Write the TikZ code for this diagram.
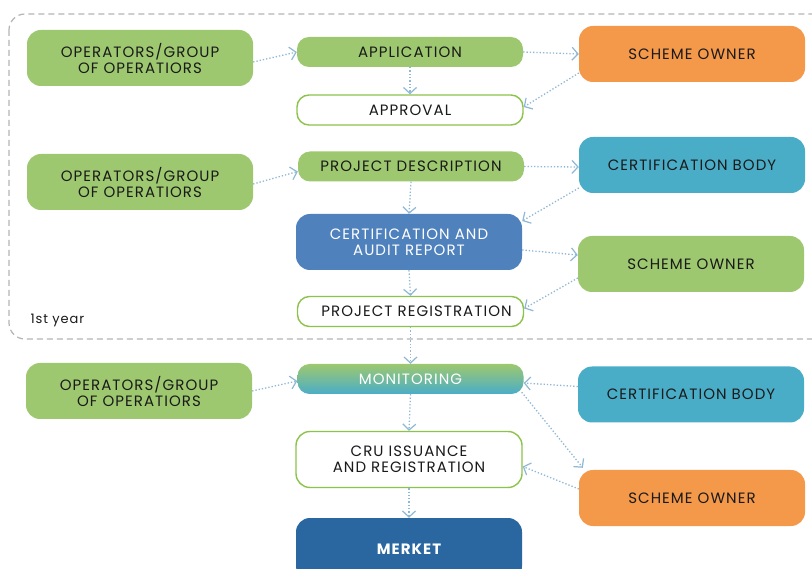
\documentclass[tikz,border=0pt]{standalone}
\usepackage{fontspec}
\setmainfont{Poppins}[LetterSpace=7]
\usetikzlibrary{arrows.meta}
\definecolor{lgreen}{HTML}{9DC86F}
\definecolor{orangeb}{HTML}{F4984A}
\definecolor{tealb}{HTML}{4AADC8}
\definecolor{blueb}{HTML}{4F81BD}
\definecolor{dblue}{HTML}{2A66A0}
\definecolor{bordergreen}{HTML}{8CC34A}
\definecolor{arrowc}{HTML}{8FB7D6}
\definecolor{dashc}{HTML}{B5B5B5}
\definecolor{txt}{HTML}{1A1A1A}
\begin{document}
\begin{tikzpicture}[x=1pt,y=-1pt,
  box/.style={rectangle, rounded corners=14pt, minimum width=226pt, minimum height=56pt,
    align=center, font=\fontsize{15}{16}\selectfont, text=txt, inner sep=0pt},
  slim/.style={box, minimum height=30pt, rounded corners=12pt},
  greenbox/.style={box, fill=lgreen},
  orangebox/.style={box, fill=orangeb},
  tealbox/.style={box, fill=tealb},
  whitebox/.style={fill=white, draw=bordergreen, line width=1.4pt},
  conn/.style={arrowc, dotted, line width=1.3pt,
    -{Straight Barb[length=6pt,width=13pt,line width=1.2pt]}}
]
\useasboundingbox (0,0) rectangle (812,569);
\clip (0,0) rectangle (812,569);
\fill[white] (0,0) rectangle (812,569);

% dashed first-year frame
\draw[dashc, line width=1.2pt, dash pattern=on 6pt off 4pt, rounded corners=16pt]
  (9,14) rectangle (840,339);
\node[anchor=west, font=\fontsize{13}{14}\selectfont, text=txt] (year) at (27,320) {1st year};

% left column
\node[greenbox] (op1) at (140,58) {OPERATORS/GROUP\\OF OPERATIORS};
\node[greenbox] (op2) at (140,182) {OPERATORS/GROUP\\OF OPERATIORS};
\node[greenbox] (op3) at (139,391) {OPERATORS/GROUP\\OF OPERATIORS};

% middle column
\node[slim, fill=lgreen] (app) at (410,52) {APPLICATION};
\node[slim, whitebox] (appr) at (410,110) {APPROVAL};
\node[slim, fill=lgreen] (pd) at (411,166.5) {PROJECT DESCRIPTION};
\node[box, fill=blueb, text=white] (car) at (409,242) {CERTIFICATION AND\\AUDIT REPORT};
\node[slim, whitebox] (pr) at (410.5,311.5) {\hspace*{12pt}PROJECT REGISTRATION};
\node[slim, top color=lgreen, bottom color=tealb, text=white] (mon) at (410.5,379) {MONITORING};
\node[box, whitebox] (cru) at (409,459.5) {CRU ISSUANCE\\AND REGISTRATION};
\node[box, fill=dblue, text=white, font=\fontsize{15}{16}\selectfont\bfseries, minimum height=62pt] (mkt) at (409,549) {MERKET};

% right column
\node[orangebox] (so1) at (692,54) {SCHEME OWNER};
\node[tealbox] (cb1) at (692,165) {CERTIFICATION BODY};
\node[greenbox] (so2) at (691,264) {SCHEME OWNER};
\node[tealbox] (cb2) at (691,394.5) {CERTIFICATION BODY};
\node[orangebox] (so3) at (692,498) {SCHEME OWNER};

% connectors
\draw[conn] ([yshift=-4pt]op1.east) -- (app.west);
\draw[conn] (app.east) -- (so1.west);
\draw[conn] ([yshift=-19pt]so1.west) -- ([yshift=3pt]appr.east);
\draw[conn] (app.south) -- (appr.north);

\draw[conn] ([yshift=-2pt]op2.east) -- ([yshift=-5pt]pd.west);
\draw[conn] (pd.east) -- ([yshift=-2pt]cb1.west);
\draw[conn] ([yshift=-23pt]cb1.west) -- ([yshift=21pt]car.east);
\draw[conn] (pd.south) -- (car.north);

\draw[conn] ([yshift=-8pt]car.east) -- ([yshift=9pt]so2.west);
\draw[conn] ([yshift=-14pt]so2.west) -- ([yshift=3pt]pr.east);
\draw[conn] (car.south) -- (pr.north);

\draw[conn] (pr.south) -- (mon.north);
\draw[conn] (op3.east) -- ([yshift=-2pt]mon.west);
\draw[conn] ([yshift=8pt]cb2.west) -- ([yshift=-4pt]mon.east);
\draw[conn] ([xshift=-2pt,yshift=2pt]mon.south east) -- ([xshift=4pt,yshift=2pt]so3.north west);
\draw[conn] ([yshift=9pt]so3.west) -- ([yshift=-7pt]cru.east);
\draw[conn] (mon.south) -- (cru.north);
\draw[conn] (cru.south) -- (mkt.north);
\end{tikzpicture}
\end{document}
